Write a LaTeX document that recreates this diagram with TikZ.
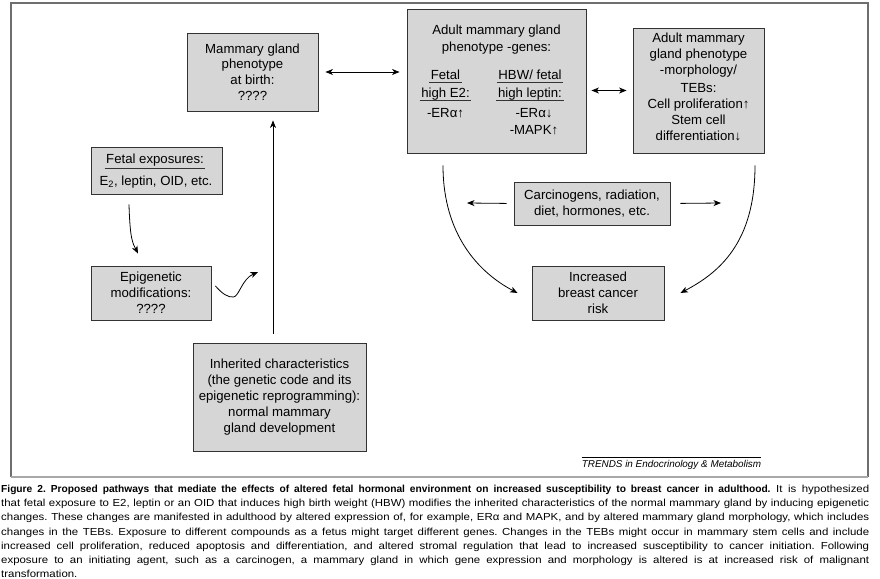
\documentclass[tikz,border=0pt]{standalone}
\usepackage{fontspec}
\setmainfont{Liberation Sans}
\newfontfamily\capfont[FakeStretch=1.12]{Liberation Sans}
\newfontfamily\capbold{Liberation Sans}
\usetikzlibrary{arrows.meta}
\definecolor{boxfill}{HTML}{D6D6D6}
\definecolor{boxline}{HTML}{333333}
\definecolor{framegray}{HTML}{6E6E6E}
\definecolor{framelight}{HTML}{A8A8A8}
\newcommand\dgmfont{\fontsize{13.2bp}{15.8bp}\selectfont}
\newcommand\capline[1]{\hbox to 868bp{#1}}
\tikzset{
  box/.style={draw=boxline, fill=boxfill, line width=0.9bp, inner sep=0pt, align=center, font=\dgmfont},
  txt/.style={inner sep=0pt, align=center, font=\dgmfont},
  ultxt/.style={inner ysep=0pt, inner xsep=1.5bp, font=\dgmfont, anchor=base},
  tip/.tip={Stealth[length=7.5bp,width=6bp,inset=2.2bp]},
  conn/.style={line width=0.8bp, -tip},
  biconn/.style={line width=0.8bp, tip-tip},
  uline/.style={line width=0.7bp, draw=boxline},
}
\begin{document}
\begin{tikzpicture}[x=1bp,y=-1bp]
\useasboundingbox (0,0) rectangle (880,579);
\fill[white] (0,0) rectangle (880,579);
% frame
\draw[framegray, line width=2.2bp] (11,477) -- (11,3) -- (868,3) -- (868,477);
\draw[framelight, line width=2.2bp] (11,477) -- (868,477);

% boxes
\node[box, minimum width=131bp, minimum height=78bp] (birth) at (252.5,72) {Mammary gland\\phenotype\\at birth:\\????};

\node[box, minimum width=179bp, minimum height=144bp] (genes) at (496.5,81) {};
\node[txt, anchor=base] (g1) at (496.5,34.3) {Adult mammary gland};
\node[txt, anchor=base] (g2) at (496.5,51.7) {phenotype -genes:};
\node[ultxt] (ga) at (445.5,80) {Fetal};
\node[ultxt] (gb) at (445.5,97.7) {high E2:};
\node[ultxt] (gc) at (445.5,118) {-ERα↑};
\node[ultxt] (gd) at (530,80) {HBW/ fetal};
\node[ultxt] (ge) at (530,97.7) {high leptin:};
\node[ultxt] (gf) at (534,118) {-ERα↓};
\node[ultxt] (gg) at (534,135) {-MAPK↑};
\foreach \n in {ga,gb,gd,ge}
  \draw[uline] ([yshift=-2.3bp]\n.base west) -- ([yshift=-2.3bp]\n.base east);

\node[box, minimum width=131bp, minimum height=125bp] (morph) at (698.5,90.5) {};
\node[txt, font=\fontsize{13.2bp}{16bp}\selectfont] (mt) at (698.5,87) {Adult mammary\\gland phenotype\\-morphology/\\[2bp]TEBs:\\Cell proliferation↑\\Stem cell\\differentiation↓};

\node[box, minimum width=131bp, minimum height=47bp] (fetal) at (156.5,170.5) {};
\node[ultxt] (fa) at (155,164) {Fetal exposures:};
\draw[uline] ([yshift=-4.2bp]fa.base west) -- ([yshift=-4.2bp]fa.base east);
\node[txt, anchor=base] (fb) at (156,185.7) {E\textsubscript{2}, leptin, OID, etc.};

\node[box, minimum width=120bp, minimum height=54bp] (epi) at (151,293) {Epigenetic\\modifications:\\????};
\node[box, minimum width=173bp, minimum height=108bp] (inh) at (279.5,397) {Inherited characteristics\\(the genetic code and its\\epigenetic reprogramming):\\normal mammary\\gland development};
\node[box, minimum width=156bp, minimum height=43bp] (carc) at (592,203.5) {Carcinogens, radiation,\\diet, hormones, etc.};
\node[box, minimum width=132bp, minimum height=54bp] (risk) at (598,293) {Increased\\breast cancer\\risk};

% connectors
\draw[biconn, shorten <=7bp, shorten >=7bp] (birth.east) -- (birth.east -| genes.west);
\draw[biconn, shorten <=5bp, shorten >=6bp] (morph.west -| genes.east) -- (morph.west);
\draw[conn, shorten <=9bp, shorten >=9bp] ([xshift=-6.5bp]inh.north) -- ([xshift=-6.5bp]inh.north |- birth.south);

\draw[conn] ([xshift=-27.5bp,yshift=-10bp]fetal.south) .. controls +(1,36) and +(-5,-10) .. ([xshift=-13bp,yshift=12bp]epi.north);

\coordinate (epiend) at (258,272);
\draw[conn] ([xshift=4bp,yshift=7bp]epi.east) .. controls +(7,8) and +(-5.5,0.5) .. (233.5,297) .. controls +(5.5,-0.5) and +(-16,7) .. (epiend);

\coordinate (cl) at (467,203);
\coordinate (cr) at (721,203);
\draw[conn, shorten <=7bp] (carc.west) -- (cl);
\draw[conn, shorten <=10bp] (carc.east) -- (cr);

\draw[conn] ([xshift=-53.5bp,yshift=-12bp]genes.south) .. controls +(0,70) and +(-38,-20) .. ([xshift=-14bp]risk.west);
\draw[conn] ([xshift=56.5bp,yshift=-12bp]morph.south) .. controls +(0,78) and +(38,-20) .. ([xshift=16bp]risk.east);

% journal mark
\node[font=\fontsize{9.9bp}{12bp}\selectfont\itshape, anchor=base, inner sep=0pt] (trends) at (671.5,467.3) {TRENDS in Endocrinology \& Metabolism};
\draw[line width=0.6bp] ([yshift=2.6bp]trends.north west) -- ([yshift=2.6bp]trends.north east);

% caption
\node[anchor=north west, inner sep=0pt, font=\capfont\fontsize{10.2bp}{14.17bp}\selectfont] (cap) at (1,484.9) {\vbox{\frenchspacing\baselineskip=14.17bp
\capline{{\capbold\bfseries Figure 2. Proposed pathways that mediate the effects of altered fetal hormonal environment on increased susceptibility to breast cancer in adulthood.} It is hypothesized}
\capline{that fetal exposure to E2, leptin or an OID that induces high birth weight (HBW) modifies the inherited characteristics of the normal mammary gland by inducing epigenetic}
\capline{changes. These changes are manifested in adulthood by altered expression of, for example, ERα and MAPK, and by altered mammary gland morphology, which includes}
\capline{changes in the TEBs. Exposure to different compounds as a fetus might target different genes. Changes in the TEBs might occur in mammary stem cells and include}
\capline{increased cell proliferation, reduced apoptosis and differentiation, and altered stromal regulation that lead to increased susceptibility to cancer initiation. Following}
\capline{exposure to an initiating agent, such as a carcinogen, a mammary gland in which gene expression and morphology is altered is at increased risk of malignant}
\hbox{transformation.}}};
\end{tikzpicture}
\end{document}
